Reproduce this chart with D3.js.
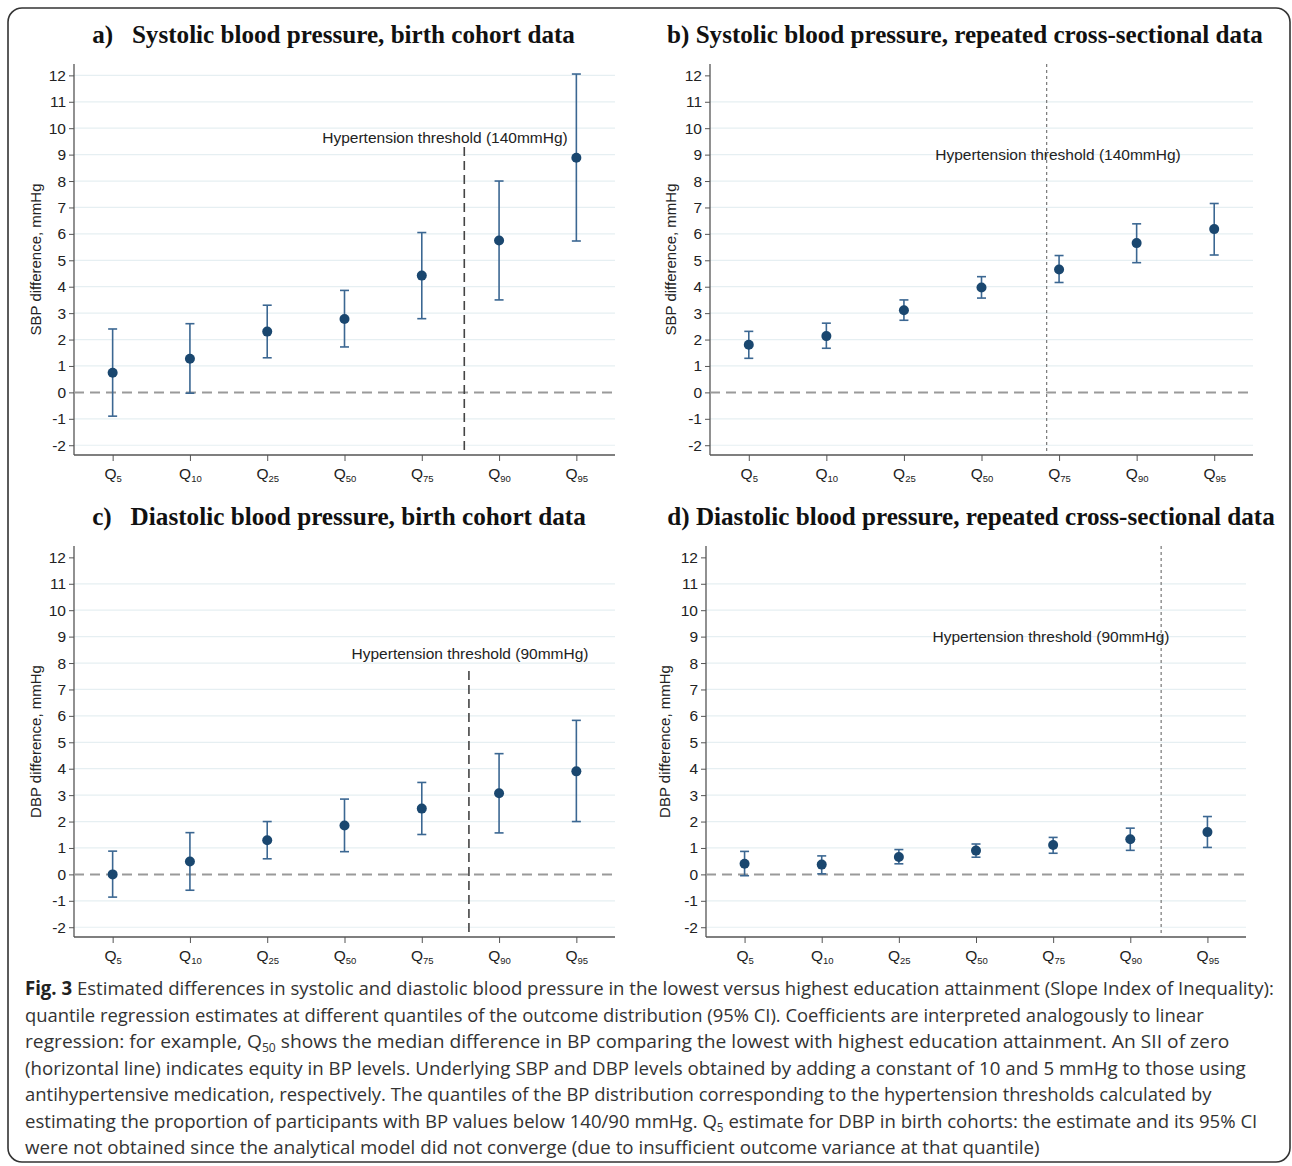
<!DOCTYPE html>
<html><head><meta charset="utf-8">
<script src="https://cdn.jsdelivr.net/npm/d3@7"></script>
<style>
html,body{margin:0;padding:0;background:#fff;}
svg{display:block;}
</style></head>
<body>
<script>
// ---------- DATA ----------
const quantiles = ["5","10","25","50","75","90","95"];
const yTicks = [-2,-1,0,1,2,3,4,5,6,7,8,9,10,11,12];

const sbpCohortEst = [0.74, 1.27, 2.30, 2.78, 4.42, 5.75, 8.88];
const sbpCohortLo  = [-0.90, -0.03, 1.31, 1.72, 2.79, 3.50, 5.73];
const sbpCohortHi  = [2.40, 2.60, 3.30, 3.86, 6.05, 8.00, 12.05];

const sbpCrossEst = [1.80, 2.13, 3.11, 3.97, 4.65, 5.65, 6.18];
const sbpCrossLo  = [1.29, 1.67, 2.73, 3.57, 4.16, 4.91, 5.20];
const sbpCrossHi  = [2.31, 2.62, 3.50, 4.38, 5.18, 6.38, 7.15];

const dbpCohortEst = [0.00, 0.49, 1.29, 1.85, 2.49, 3.07, 3.90];
const dbpCohortLo  = [-0.86, -0.60, 0.59, 0.86, 1.51, 1.57, 2.00];
const dbpCohortHi  = [0.88, 1.58, 2.00, 2.85, 3.48, 4.57, 5.83];

const dbpCrossEst = [0.40, 0.37, 0.66, 0.90, 1.11, 1.33, 1.60];
const dbpCrossLo  = [-0.05, 0.02, 0.40, 0.65, 0.80, 0.91, 1.02];
const dbpCrossHi  = [0.87, 0.70, 0.94, 1.15, 1.40, 1.75, 2.19];

// threshold positions on the quantile index axis (0 = Q5 ... 6 = Q95)
const thresholdIndex = [4.55, 3.84, 4.61, 5.40];
const thresholdLabels = ["Hypertension threshold (140mmHg)","Hypertension threshold (140mmHg)",
                         "Hypertension threshold (90mmHg)","Hypertension threshold (90mmHg)"];
const titles = ["a)   Systolic blood pressure, birth cohort data",
                "b) Systolic blood pressure, repeated cross-sectional data",
                "c)   Diastolic blood pressure, birth cohort data",
                "d) Diastolic blood pressure, repeated cross-sectional data"];
const yLabels = ["SBP difference, mmHg","SBP difference, mmHg","DBP difference, mmHg","DBP difference, mmHg"];

const captionLines = [
  [{t:"Fig. 3",b:true},{t:" Estimated differences in systolic and diastolic blood pressure in the lowest versus highest education attainment (Slope Index of Inequality):"}],
  [{t:"quantile regression estimates at different quantiles of the outcome distribution (95% CI). Coefficients are interpreted analogously to linear"}],
  [{t:"regression: for example, Q"},{t:"50",sub:true},{t:" shows the median difference in BP comparing the lowest with highest education attainment. An SII of zero"}],
  [{t:"(horizontal line) indicates equity in BP levels. Underlying SBP and DBP levels obtained by adding a constant of 10 and 5 mmHg to those using"}],
  [{t:"antihypertensive medication, respectively. The quantiles of the BP distribution corresponding to the hypertension thresholds calculated by"}],
  [{t:"estimating the proportion of participants with BP values below 140/90 mmHg. Q"},{t:"5",sub:true},{t:" estimate for DBP in birth cohorts: the estimate and its 95% CI"}],
  [{t:"were not obtained since the analytical model did not converge (due to insufficient outcome variance at that quantile)"}]
];

// ---------- LAYOUT ----------
const W = 1292, H = 1166;
const layout = [
  {x0:74, x1:615, top:64, bot:455, titleX:333.5, titleY:43, titleW:483, ylabX:36, thrTop:147, thrStyle:"dash", lblX:445, lblY:143},
  {x0:710, x1:1253, top:64, bot:455, titleX:965, titleY:43, titleW:596, ylabX:671, thrTop:64, thrStyle:"dot", lblX:1058, lblY:160},
  {x0:74, x1:615, top:546, bot:937, titleX:339, titleY:525, titleW:494, ylabX:36, thrTop:671, thrStyle:"dash", lblX:470, lblY:659},
  {x0:706, x1:1246, top:546, bot:937, titleX:971, titleY:525, titleW:608, ylabX:665, thrTop:546, thrStyle:"dot", lblX:1051, lblY:642}
];
const series = [
  [sbpCohortEst, sbpCohortLo, sbpCohortHi],
  [sbpCrossEst, sbpCrossLo, sbpCrossHi],
  [dbpCohortEst, dbpCohortLo, dbpCohortHi],
  [dbpCrossEst, dbpCrossLo, dbpCrossHi]
];

const svg = d3.select("body").append("svg").attr("width", W).attr("height", H);

// figure border
svg.append("rect").attr("x", 8).attr("y", 8).attr("width", 1282).attr("height", 1154)
  .attr("rx", 14).attr("fill", "none").attr("stroke", "#333").attr("stroke-width", 1.6);

const markerColor = "#1a476f", barColor = "#3b6792";

layout.forEach((L, p) => {
  const [est, lo, hi] = series[p];
  const g = svg.append("g");
  const x = d3.scaleLinear().domain([-0.5, 6.5]).range([L.x0, L.x1]);
  const y = d3.scaleLinear().domain([-2.37, 12.43]).range([L.bot, L.top]);

  // title (fit to measured width)
  const tt = g.append("text").attr("x", L.titleX).attr("y", L.titleY)
    .attr("text-anchor", "middle").style("white-space", "pre")
    .attr("font-family", "'Liberation Serif','Times New Roman',serif").attr("font-weight", "bold")
    .attr("font-size", 24).attr("fill", "#111").text(titles[p]);
  const w0 = tt.node().getComputedTextLength();
  tt.attr("font-size", 24 * L.titleW / w0);

  // gridlines
  g.append("g").selectAll("line").data(yTicks.filter(v => v !== 0 && (p === 0 || v !== 12))).join("line")
    .attr("x1", L.x0).attr("x2", L.x1).attr("y1", d => y(d)).attr("y2", d => y(d))
    .attr("stroke", "#e6eff2").attr("stroke-width", 1.2);

  // y axis
  const ya = g.append("g").attr("transform", `translate(${L.x0},0)`)
    .call(d3.axisLeft(y).tickValues(yTicks).tickSize(5).tickPadding(3).tickFormat(d => String(d)));
  ya.select(".domain").attr("stroke", "#555").attr("stroke-width", 1.3).attr("d", `M0,${L.top}V${L.bot}`);
  ya.selectAll(".tick line").attr("stroke", "#555");
  ya.selectAll(".tick text").attr("font-family", "'Liberation Sans',Arial,sans-serif")
    .attr("font-size", 15.5).attr("fill", "#222");

  // x axis
  const xa = g.append("g").attr("transform", `translate(0,${L.bot})`)
    .call(d3.axisBottom(x).tickValues(d3.range(quantiles.length)).tickSize(6).tickFormat(""));
  xa.select(".domain").attr("stroke", "#555").attr("stroke-width", 1.3).attr("d", `M${L.x0},0H${L.x1}`);
  xa.selectAll(".tick line").attr("stroke", "#555");
  xa.selectAll(".tick").each(function(d) {
    const t = d3.select(this).append("text").attr("y", 24).attr("text-anchor", "middle")
      .attr("font-family", "'Liberation Sans',Arial,sans-serif").attr("fill", "#222");
    t.append("tspan").attr("font-size", 15.5).text("Q");
    t.append("tspan").attr("font-size", 9.5).attr("dy", 3).text(quantiles[d]);
  });

  // y label
  g.append("text").attr("transform", `translate(${L.ylabX},${(L.top + L.bot) / 2}) rotate(-90)`)
    .attr("text-anchor", "middle").attr("dy", "0.35em")
    .attr("font-family", "'Liberation Sans',Arial,sans-serif").attr("font-size", 15).attr("fill", "#222")
    .text(yLabels[p]);

  // zero line
  g.append("line").attr("x1", L.x0).attr("x2", L.x1).attr("y1", y(0)).attr("y2", y(0))
    .attr("stroke", "#9a9a9a").attr("stroke-width", 2).attr("stroke-dasharray", "10,6");

  // threshold line
  const tx = x(thresholdIndex[p]);
  g.append("line").attr("x1", tx).attr("x2", tx).attr("y1", L.thrTop).attr("y2", L.bot)
    .attr("stroke", L.thrStyle === "dash" ? "#444" : "#777")
    .attr("stroke-width", L.thrStyle === "dash" ? 1.6 : 1.2)
    .attr("stroke-dasharray", L.thrStyle === "dash" ? "9,5" : "3,3");
  g.append("text").attr("x", L.lblX).attr("y", L.lblY).attr("text-anchor", "middle")
    .attr("font-family", "'Liberation Sans',Arial,sans-serif").attr("font-size", 15.5).attr("fill", "#222")
    .text(thresholdLabels[p]);

  // error bars
  const idx = d3.range(est.length);
  const cap = 4.5;
  g.append("g").selectAll("line.v").data(idx).join("line")
    .attr("x1", i => x(i)).attr("x2", i => x(i)).attr("y1", i => y(lo[i])).attr("y2", i => y(hi[i]))
    .attr("stroke", barColor).attr("stroke-width", 1.6);
  g.append("g").selectAll("line").data(idx.flatMap(i => [[i, lo[i]], [i, hi[i]]])).join("line")
    .attr("x1", d => x(d[0]) - cap).attr("x2", d => x(d[0]) + cap)
    .attr("y1", d => y(d[1])).attr("y2", d => y(d[1]))
    .attr("stroke", barColor).attr("stroke-width", 1.6);
  g.append("g").selectAll("circle").data(idx).join("circle")
    .attr("cx", i => x(i)).attr("cy", i => y(est[i])).attr("r", 5)
    .attr("fill", markerColor);
});

// caption (horizontally condensed with a scale transform to match the reference line widths)
const capX = 25, capY0 = 995, capDY = 26.5;
const capWidths = [1250, 1180, 1205, 1221, 1187, 1234, 1015];
captionLines.forEach((parts, i) => {
  const t = svg.append("text").attr("x", 0).attr("y", 0)
    .attr("font-family", "'Open Sans','Noto Sans',sans-serif").attr("font-size", 19).attr("fill", "#333")
    .style("white-space", "pre");
  let shifted = false;
  parts.forEach(pt => {
    const s = t.append("tspan").text(pt.t);
    if (pt.b) s.attr("font-weight", "bold").attr("fill", "#222");
    if (pt.sub) { s.attr("font-size", 12).attr("dy", 4); shifted = true; }
    else if (shifted) { s.attr("dy", -4); shifted = false; }
  });
  const w = t.node().getComputedTextLength();
  t.attr("transform", `translate(${capX},${capY0 + i * capDY}) scale(${capWidths[i] / w},1)`);
});
</script>
</body></html>
